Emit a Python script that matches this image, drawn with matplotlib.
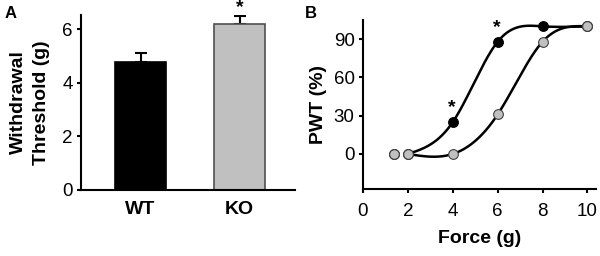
import numpy as np
import matplotlib
matplotlib.use('Agg')
import matplotlib.pyplot as plt

plt.rcParams['font.family'] = ['Liberation Sans', 'DejaVu Sans']

# panel A data
groups = ['WT', 'KO']
thresh = [4.77, 6.17]
thresh_err = [0.33, 0.30]
bar_colors = ['#000000', '#c0c0c0']
bar_edges = ['#000000', '#505050']

# panel B data
force_wt = [1.4, 2, 4, 6, 8, 10]
pwt_wt = [0, 0, 25, 88, 100, 100]
force_ko = [1.4, 2, 4, 6, 8, 10]
pwt_ko = [0, 0, 0, 31, 88, 100]


def natural_spline(x, y, xs):
    # plain natural cubic spline, solved with numpy
    x = np.asarray(x, float)
    y = np.asarray(y, float)
    n = len(x)
    h = np.diff(x)
    A = np.zeros((n, n))
    b = np.zeros(n)
    A[0, 0] = 1
    A[-1, -1] = 1
    for i in range(1, n - 1):
        A[i, i - 1] = h[i - 1]
        A[i, i] = 2 * (h[i - 1] + h[i])
        A[i, i + 1] = h[i]
        b[i] = 3 * ((y[i + 1] - y[i]) / h[i] - (y[i] - y[i - 1]) / h[i - 1])
    c = np.linalg.solve(A, b)
    out = np.zeros_like(xs)
    for k, xv in enumerate(xs):
        i = min(np.searchsorted(x, xv, side='right') - 1, n - 2)
        i = max(i, 0)
        bb = (y[i + 1] - y[i]) / h[i] - h[i] * (2 * c[i] + c[i + 1]) / 3
        d = (c[i + 1] - c[i]) / (3 * h[i])
        dx = xv - x[i]
        out[k] = y[i] + bb * dx + c[i] * dx ** 2 + d * dx ** 3
    return out


fig = plt.figure(figsize=(6.0, 2.56), dpi=100)

# ---- panel A
axA = fig.add_axes([0.135, 0.258, 0.357, 0.683])
pos = np.arange(len(groups))
axA.bar(pos, thresh, width=0.52, color=bar_colors, edgecolor=bar_edges, linewidth=1.2, zorder=2)
axA.errorbar(pos, thresh, yerr=[np.zeros(2), thresh_err], fmt='none', ecolor='black',
             elinewidth=1.5, capsize=4, capthick=1.5, zorder=1)
axA.text(pos[1], thresh[1] + thresh_err[1] + 0.02, '*', ha='center', va='bottom',
         fontsize=14, fontweight='bold')
axA.set_xlim(-0.6, 1.56)
axA.set_ylim(0, 6.52)
axA.set_yticks([0, 2, 4, 6])
axA.set_xticks(pos)
axA.set_xticklabels(groups, fontsize=14, fontweight='bold')
axA.tick_params(axis='x', length=0, pad=8)
axA.tick_params(axis='y', length=3, width=1.5, labelsize=13.5, pad=3)
axA.set_ylabel('Withdrawal\nThreshold (g)', fontsize=14, fontweight='bold', linespacing=1.45)
axA.yaxis.set_label_coords(-0.145, 0.5)
for s in ['top', 'right']:
    axA.spines[s].set_visible(False)
for s in ['left', 'bottom']:
    axA.spines[s].set_linewidth(1.5)
fig.text(0.008, 0.93, 'A', fontsize=12, fontweight='bold')

# ---- panel B
axB = fig.add_axes([0.605, 0.262, 0.388, 0.66])
xs_wt = np.linspace(2, 10, 200)
xs_ko = np.linspace(2, 10, 200)
axB.plot(xs_wt, natural_spline(force_wt[1:], pwt_wt[1:], xs_wt), color='black', lw=1.8, zorder=1)
axB.plot(xs_ko, natural_spline(force_ko[1:], pwt_ko[1:], xs_ko), color='black', lw=1.8, zorder=1)
axB.plot(force_wt, pwt_wt, 'o', ms=7, mfc='black', mec='black', mew=0.8, ls='none', zorder=3)
axB.plot(force_ko, pwt_ko, 'o', ms=7, mfc='#c0c0c0', mec='#404040', mew=0.8, ls='none', zorder=4)
for fx in [4, 6]:
    py = pwt_wt[force_wt.index(fx)]
    axB.annotate('*', (fx, py), xytext=(-1, 4), textcoords='offset points',
                 ha='center', va='bottom', fontsize=14, fontweight='bold')
axB.set_xlim(0, 10.37)
axB.set_ylim(-27.4, 105)
axB.set_xticks([0, 2, 4, 6, 8, 10])
axB.set_yticks([0, 30, 60, 90])
axB.tick_params(length=3, width=1.5, labelsize=13.5)
axB.tick_params(axis='x', pad=7)
axB.tick_params(axis='y', pad=3)
axB.set_xlabel('Force (g)', fontsize=14, fontweight='bold', labelpad=7)
axB.set_ylabel('PWT (%)', fontsize=14, fontweight='bold', labelpad=5)
for s in ['top', 'right']:
    axB.spines[s].set_visible(False)
for s in ['left', 'bottom']:
    axB.spines[s].set_linewidth(1.5)
fig.text(0.508, 0.93, 'B', fontsize=12, fontweight='bold')

fig.savefig('out.png', dpi=100)
